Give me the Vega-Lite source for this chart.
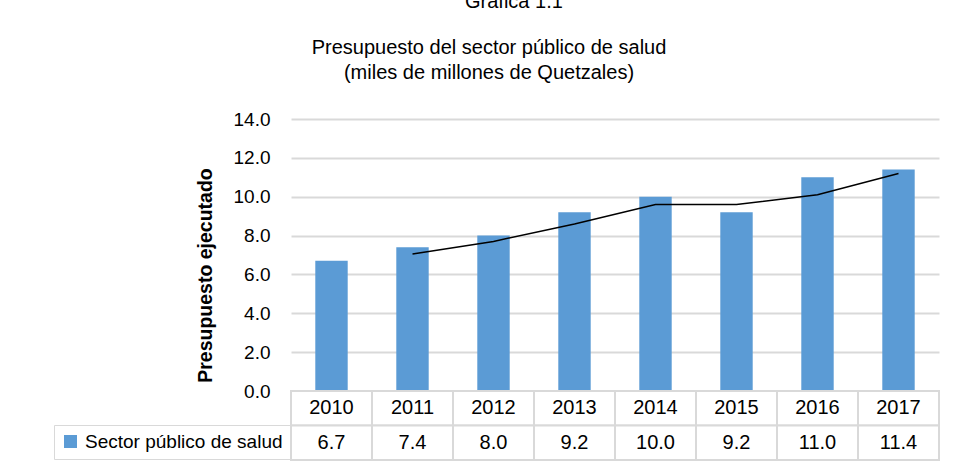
{
  "$schema": "https://vega.github.io/schema/vega-lite/v6.json",
  "autosize": {"type": "none"},
  "padding": {"left": 291, "top": 119, "right": 663, "bottom": 349},
  "background": "white",
  "config": {
    "view": {"stroke": null},
    "font": "Liberation Sans",
    "text": {"font": "Liberation Sans"}
  },
  "title": {
    "text": "Gráfica 1.1",
    "anchor": "start",
    "frame": "group",
    "dx": 174,
    "offset": 26,
    "fontSize": 20,
    "fontWeight": "normal",
    "color": "black",
    "font": "Liberation Sans"
  },
  "data": {
    "values": [
      {"anio": "2010", "valor": 6.7, "media": null},
      {"anio": "2011", "valor": 7.4, "media": 7.05},
      {"anio": "2012", "valor": 8.0, "media": 7.7},
      {"anio": "2013", "valor": 9.2, "media": 8.6},
      {"anio": "2014", "valor": 10.0, "media": 9.6},
      {"anio": "2015", "valor": 9.2, "media": 9.6},
      {"anio": "2016", "valor": 11.0, "media": 10.1},
      {"anio": "2017", "valor": 11.4, "media": 11.2}
    ]
  },
  "spacing": 0,
  "bounds": "flush",
  "resolve": {"scale": {"x": "independent", "y": "independent"}},
  "vconcat": [
    {
      "width": 648,
      "height": 272,
      "title": {
        "text": ["Presupuesto del sector público de salud", "(miles de millones de Quetzales)"],
        "anchor": "middle",
        "frame": "group",
        "dx": -126,
        "offset": 27,
        "fontSize": 20,
        "fontWeight": "normal",
        "lineHeight": 25,
        "color": "black",
        "font": "Liberation Sans"
      },
      "encoding": {
        "x": {"field": "anio", "type": "nominal", "scale": {"paddingInner": 0.6, "paddingOuter": 0.3}, "axis": null}
      },
      "layer": [
        {
          "mark": {"type": "bar"},
          "encoding": {
            "y": {
              "field": "valor",
              "type": "quantitative",
              "scale": {"domain": [0, 14], "nice": false},
              "axis": {
                "title": "Presupuesto ejecutado",
                "values": [0, 2, 4, 6, 8, 10, 12, 14],
                "tickCount": 10,
                "format": ".1f",
                "domain": false,
                "ticks": false,
                "grid": true,
                "gridColor": "#d9d9d9",
                "gridWidth": 2,
                "labelOverlap": false,
                "labelFont": "Liberation Sans",
                "labelFontSize": 19,
                "labelColor": "black",
                "labelPadding": 21,
                "labelFlush": false,
                "titleFont": "Liberation Sans",
                "titleFontSize": 19.5,
                "titleFontWeight": "bold",
                "titleColor": "black",
                "titleAngle": 270,
                "titleX": -86,
                "titleY": 156,
                "titleAlign": "center",
                "titleBaseline": "middle"
              }
            },
            "color": {
              "datum": "Sector público de salud",
              "type": "nominal",
              "scale": {"range": ["#5b9bd5"]},
              "legend": {
                "orient": "none",
                "legendX": -237,
                "legendY": 306,
                "title": null,
                "strokeColor": "#d9d9d9",
                "padding": 7,
                "symbolType": "square",
                "symbolSize": 169,
                "symbolStrokeWidth": 0,
                "labelFont": "Liberation Sans",
                "labelFontSize": 19,
                "labelColor": "black",
                "labelOffset": 5,
                "labelLimit": 400
              }
            }
          }
        },
        {
          "mark": {"type": "line", "color": "black", "strokeWidth": 1.5},
          "encoding": {
            "y": {"field": "media", "type": "quantitative", "title": "Presupuesto ejecutado"}
          }
        }
      ]
    },
    {
      "width": 648,
      "height": 69,
      "encoding": {
        "x": {"field": "anio", "type": "nominal", "scale": {"paddingInner": 0, "paddingOuter": 0}, "axis": null}
      },
      "layer": [
        {
          "mark": {"type": "rect", "fill": "white", "stroke": "#d9d9d9", "strokeWidth": 2},
          "encoding": {
            "y": {"datum": "a", "type": "nominal", "scale": {"domain": ["a", "b"], "paddingInner": 0, "paddingOuter": 0}, "axis": null}
          }
        },
        {
          "mark": {"type": "rect", "fill": "white", "stroke": "#d9d9d9", "strokeWidth": 2},
          "encoding": {
            "y": {"datum": "b", "type": "nominal"}
          }
        },
        {
          "mark": {"type": "text", "fontSize": 20, "color": "black", "font": "Liberation Sans"},
          "encoding": {
            "y": {"datum": "a", "type": "nominal"},
            "text": {"field": "anio"}
          }
        },
        {
          "mark": {"type": "text", "fontSize": 20, "color": "black", "font": "Liberation Sans"},
          "encoding": {
            "y": {"datum": "b", "type": "nominal"},
            "text": {"field": "valor", "type": "quantitative", "format": ".1f"}
          }
        }
      ]
    }
  ]
}
